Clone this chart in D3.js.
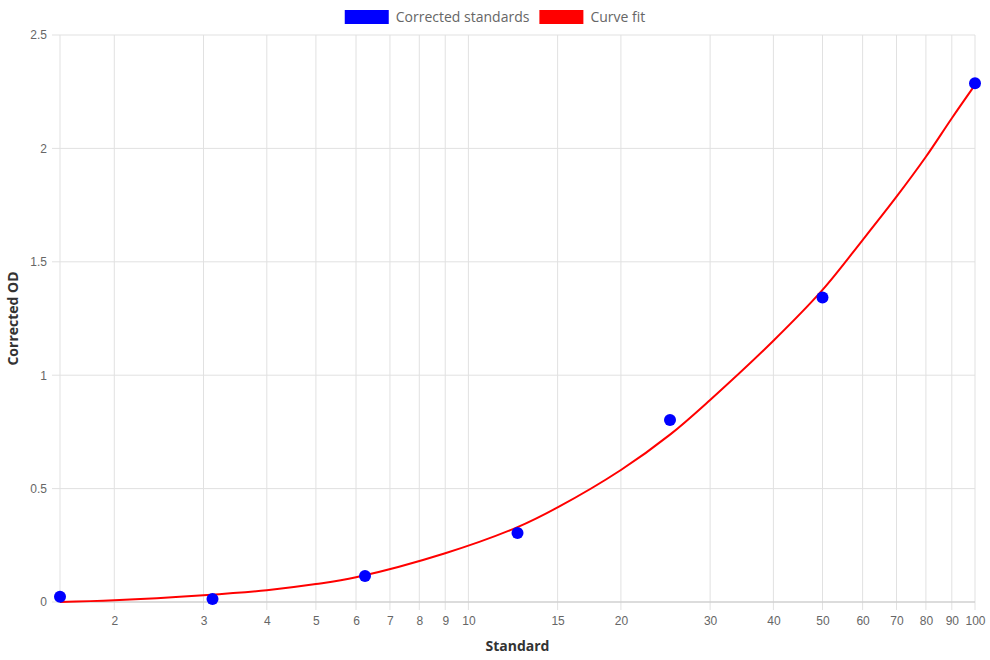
<!DOCTYPE html>
<html>
  <head>
    <meta charset="utf-8">
    <title>Standard curve</title>
    <style>
      body { margin: 0; background: #fff; }
      .tick text { font-family: "Liberation Sans", Arial, sans-serif; font-size: 12px; fill: #666; }
      .grid line { stroke: #e1e1e1; }
      .axis-title { font-family: "Open Sans", sans-serif; font-weight: bold; font-size: 14px; fill: #333; }
      .legend text { font-family: "Open Sans", sans-serif; font-size: 14px; fill: #666; }
    </style>
  </head>
  <body>
    <script src="https://d3js.org/d3.v7.min.js"></script>
    <script>

      // measured standards
      var standards = [1.5625, 3.125, 6.25, 12.5, 25, 50, 100];
      var correctedOD = [0.023, 0.013, 0.115, 0.304, 0.802, 1.343, 2.287];

      // curve fit
      var fitX = [1.5625, 2, 3, 4, 5, 6, 9, 12.5, 15, 20, 25, 30, 40, 50, 60, 70, 80, 90, 100];
      var fitY = [0.0, 0.0075, 0.03, 0.052, 0.079, 0.109, 0.215, 0.33, 0.417, 0.582, 0.738, 0.891, 1.152, 1.376, 1.596, 1.787, 1.963, 2.133, 2.28];

      var xTicks = [2, 3, 4, 5, 6, 7, 8, 9, 10, 15, 20, 30, 40, 50, 60, 70, 80, 90, 100];
      var yTicks = [0, 0.5, 1, 1.5, 2, 2.5];

      var legendLabels = ["Corrected standards", "Curve fit"];
      var legendColors = ["#0000ff", "#ff0000"];

      var W = 990, H = 660;
      var margin = {top: 35, right: 15, bottom: 58, left: 60};
      var width = W - margin.left - margin.right,
          height = H - margin.top - margin.bottom;

      var svg = d3.select("body").append("svg")
          .attr("width", W)
          .attr("height", H);

      var g = svg.append("g")
          .attr("transform", "translate(" + margin.left + "," + margin.top + ")");

      var x = d3.scaleLog()
          .domain([1.5625, 100])
          .range([0, width]);
      var y = d3.scaleLinear()
          .domain([0, 2.5])
          .range([height, 0]);

      // grid lines
      g.append("g").attr("class", "grid")
        .selectAll("line")
        .data(yTicks)
        .enter().append("line")
          .attr("x1", -8).attr("x2", width)
          .attr("y1", function(d) { return y(d); })
          .attr("y2", function(d) { return y(d); });

      g.append("g").attr("class", "grid")
        .selectAll("line")
        .data([1.5625].concat(xTicks))
        .enter().append("line")
          .attr("x1", function(d) { return x(d); })
          .attr("x2", function(d) { return x(d); })
          .attr("y1", 0)
          .attr("y2", function(d) { return d === 1.5625 ? height : height + 8; });

      // bottom border
      g.append("line")
        .attr("x1", 0).attr("x2", width)
        .attr("y1", height).attr("y2", height)
        .attr("stroke", "#c8c8c8");

      // x axis labels
      var xAxis = g.append("g")
          .attr("transform", "translate(0," + height + ")")
          .call(d3.axisBottom(x).tickValues(xTicks).tickSize(0).tickPadding(14)
                .tickFormat(d3.format("d")));
      xAxis.select(".domain").remove();

      // y axis labels
      var yAxis = g.append("g")
          .call(d3.axisLeft(y).tickValues(yTicks).tickSize(0).tickPadding(13)
                .tickFormat(function(d) { return d; }));
      yAxis.select(".domain").remove();

      // curve fit
      var fitData = fitX.map(function(v, i) { return [v, fitY[i]]; });
      g.append("path")
        .datum(fitData)
        .attr("fill", "none")
        .attr("stroke", "#ff0000")
        .attr("stroke-width", 2)
        .attr("d", d3.line()
          .x(function(d) { return x(d[0]); })
          .y(function(d) { return y(d[1]); })
          .curve(d3.curveCatmullRom.alpha(0.5)));

      // standards points
      g.selectAll(".pt")
        .data(standards)
        .enter().append("circle")
          .attr("class", "pt")
          .attr("cx", function(d) { return x(d); })
          .attr("cy", function(d, i) { return y(correctedOD[i]); })
          .attr("r", 6)
          .attr("fill", "#0000ff");

      // axis titles
      svg.append("text")
        .attr("class", "axis-title")
        .attr("x", margin.left + width / 2)
        .attr("y", 651)
        .attr("text-anchor", "middle")
        .text("Standard");

      svg.append("text")
        .attr("class", "axis-title")
        .attr("transform", "translate(18," + (margin.top + height / 2) + ") rotate(-90)")
        .attr("text-anchor", "middle")
        .text("Corrected OD");

      // legend
      var legend = svg.append("g").attr("class", "legend");
      var items = legend.selectAll("g")
        .data(legendLabels)
        .enter().append("g");
      items.append("rect")
        .attr("width", 44).attr("height", 14)
        .attr("y", 10)
        .attr("fill", function(d, i) { return legendColors[i]; });
      items.append("text")
        .attr("x", 51)
        .attr("y", 22)
        .text(function(d) { return d; });

      var offset = 0, widths = [];
      items.each(function() {
        var w = 51 + d3.select(this).select("text").node().getComputedTextLength();
        widths.push(w);
      });
      var total = d3.sum(widths) + 10 * (widths.length - 1);
      var start = (W - total) / 2;
      items.attr("transform", function(d, i) {
        var tx = start + offset;
        offset += widths[i] + 10;
        return "translate(" + tx + ",0)";
      });

    </script>
  </body>
</html>
